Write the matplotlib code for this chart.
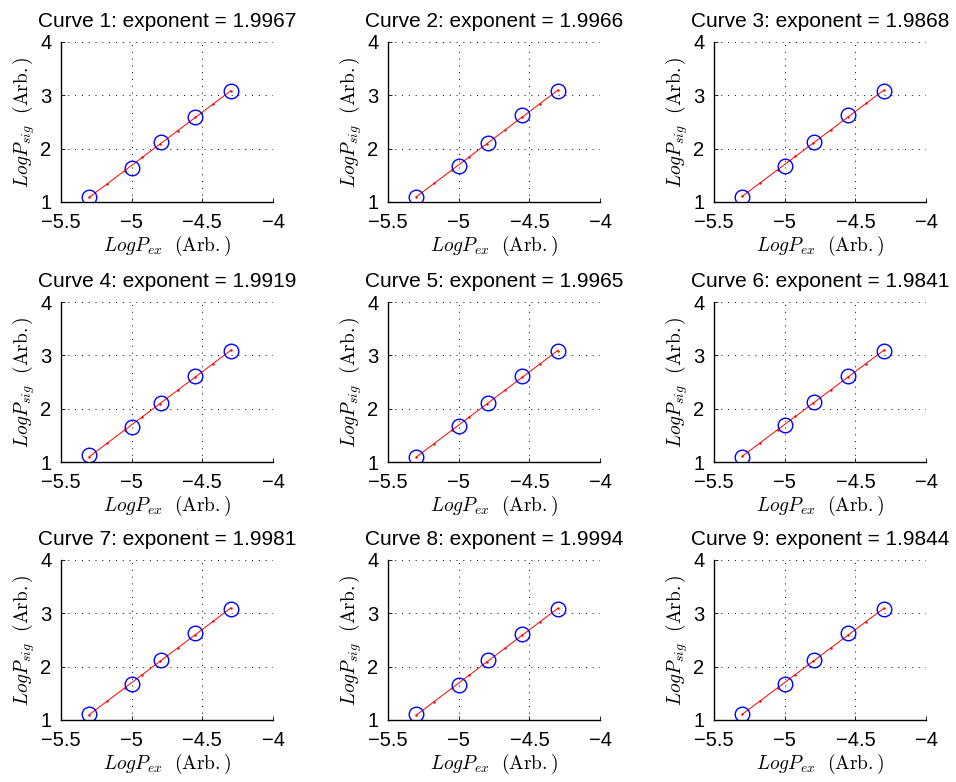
import numpy as np
import matplotlib
matplotlib.use('Agg')
from matplotlib import pyplot as plt

plt.rcParams['font.family'] = ['Liberation Sans', 'DejaVu Sans']
plt.rcParams['mathtext.fontset'] = 'cm'

# log excitation power (same for every curve)
log_pex = [-5.30, -5.00, -4.79, -4.55, -4.30]

# log signal power for each curve
log_psig_1 = [1.10, 1.64, 2.12, 2.60, 3.09]
log_psig_2 = [1.10, 1.67, 2.11, 2.63, 3.09]
log_psig_3 = [1.10, 1.68, 2.12, 2.64, 3.09]
log_psig_4 = [1.13, 1.66, 2.11, 2.61, 3.09]
log_psig_5 = [1.10, 1.67, 2.11, 2.61, 3.09]
log_psig_6 = [1.10, 1.70, 2.12, 2.62, 3.09]
log_psig_7 = [1.11, 1.67, 2.12, 2.63, 3.09]
log_psig_8 = [1.11, 1.65, 2.12, 2.61, 3.09]
log_psig_9 = [1.11, 1.67, 2.12, 2.63, 3.09]

# fitted slopes shown in the titles
exponents = [1.9967, 1.9966, 1.9868, 1.9919, 1.9965, 1.9841, 1.9981, 1.9994, 1.9844]

curves = [log_psig_1, log_psig_2, log_psig_3, log_psig_4, log_psig_5,
          log_psig_6, log_psig_7, log_psig_8, log_psig_9]

xticks = [-5.5, -5, -4.5, -4]
yticks = [1, 2, 3, 4]

fig = plt.figure(figsize=(9.56, 7.82), dpi=100)

lefts = [0.0638, 0.4059, 0.7469]
bottoms = [0.7417, 0.4092, 0.0793]
w, h = 0.2218, 0.2046

for i in range(9):
    r, c = divmod(i, 3)
    ax = fig.add_axes([lefts[c], bottoms[r], w, h])
    x = np.array(log_pex)
    y = np.array(curves[i])

    # fit line with the stated slope, through the centroid of the points
    k = exponents[i]
    b = y.mean() - k * x.mean()
    xf = np.linspace(x[0], x[-1], 9)
    ax.plot(xf, k * xf + b, '-', color='red', lw=0.7,
            marker='.', markersize=1.5)
    ax.plot(x, y, 'o', mfc='none', mec=(0, 0, 1), mew=1.0, ms=10.5)

    ax.set_xlim(-5.5, -4)
    ax.set_ylim(1, 4)
    ax.set_xticks(xticks)
    ax.set_yticks(yticks)
    ax.set_xticklabels(['\u22125.5', '\u22125', '\u22124.5', '\u22124'])
    ax.tick_params(direction='in', length=3, width=0.6, labelsize=14.5)
    ax.tick_params(axis='x', pad=8)
    ax.tick_params(axis='y', pad=7)
    ax.grid(True, linestyle=(0, (1, 6)), color='black', linewidth=0.7)

    for s in ['top', 'right']:
        ax.spines[s].set_visible(False)
    for s in ['left', 'bottom']:
        ax.spines[s].set_linewidth(1.0)

    ax.set_title('Curve %d: exponent = %.4f' % (i + 1, k), fontsize=15, pad=11)
    ax.set_xlabel(r'$LogP_{ex}\ \ \mathrm{(Arb.)}$', fontsize=14, labelpad=1)
    ax.set_ylabel(r'$LogP_{sig}\ \ \mathrm{(Arb.)}$', fontsize=14, labelpad=2)

fig.savefig('out.png', dpi=100)
